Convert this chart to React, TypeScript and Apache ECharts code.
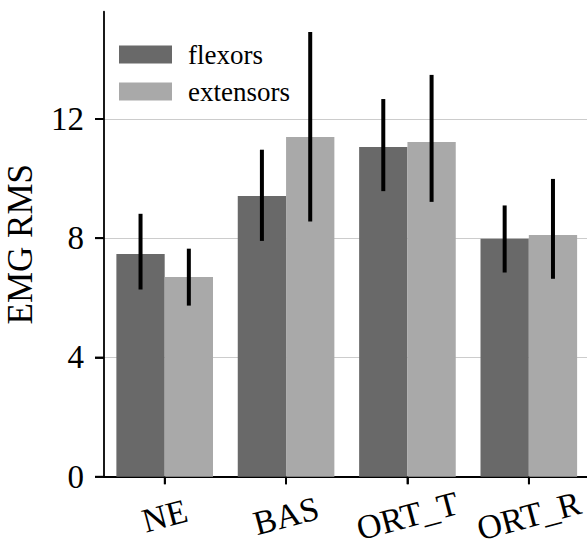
import React, { useEffect, useRef } from "react";
import * as echarts from "echarts";

const categories = ["NE", "BAS", "ORT_T", "ORT_R"];
const flexors = [7.47, 9.42, 11.06, 7.98];
const flexorsLow = [6.28, 7.91, 9.58, 6.85];
const flexorsHigh = [8.82, 10.97, 12.67, 9.1];
const extensors = [6.7, 11.4, 11.23, 8.11];
const extensorsLow = [5.74, 8.56, 9.22, 6.64];
const extensorsHigh = [7.65, 14.92, 13.48, 9.99];
const yTicks = [0, 4, 8, 12];
const yMax = 15.6;

const FONT = "Liberation Serif";
const FLEX_COLOR = "#696969";
const EXT_COLOR = "#a9a9a9";

function errorSeries(lo: number[], hi: number[], offsetFrac: number) {
  return {
    type: "custom",
    z: 5,
    clip: false,
    silent: true,
    encode: { x: 0, y: [1, 2] },
    data: lo.map((l, i) => [i, l, hi[i]]),
    renderItem: (params: any, api: any) => {
      const idx = api.value(0);
      const pLo = api.coord([idx, api.value(1)]);
      const pHi = api.coord([idx, api.value(2)]);
      const band = api.size([1, 0])[0];
      const off = band * offsetFrac;
      return {
        type: "line",
        shape: { x1: pLo[0] + off, y1: pLo[1], x2: pHi[0] + off, y2: pHi[1] },
        style: { stroke: "#000", lineWidth: 4 },
      };
    },
  };
}

// axis tick marks, positioned through the chart's own scales
const yTickSeries = {
  type: "custom",
  z: 6,
  clip: false,
  silent: true,
  encode: { x: 0, y: 1 },
  data: yTicks.map((v) => [0, v]),
  renderItem: (params: any, api: any) => {
    const p = api.coord([0, api.value(1)]);
    const band = api.size([1, 0])[0];
    const x0 = p[0] - band / 2;
    return {
      type: "line",
      shape: { x1: x0 - 9, y1: p[1], x2: x0, y2: p[1] },
      style: { stroke: "#000", lineWidth: 1.8 },
    };
  },
};

const xTickSeries = {
  type: "custom",
  z: 6,
  clip: false,
  silent: true,
  encode: { x: 0, y: 1 },
  data: categories.map((_, i) => [i, 0]),
  renderItem: (params: any, api: any) => {
    const p = api.coord([api.value(0), 0]);
    return {
      type: "line",
      shape: { x1: p[0], y1: p[1], x2: p[0], y2: p[1] + 7.5 },
      style: { stroke: "#000", lineWidth: 1.8 },
    };
  },
};

export default function App() {
  const ref = useRef<HTMLDivElement>(null);
  useEffect(() => {
    if (!ref.current) return;
    const chart = echarts.init(ref.current, null, { renderer: "svg" });
    chart.setOption({
      animation: false,
      backgroundColor: "#fff",
      textStyle: { fontFamily: FONT },
      grid: {
        left: 104,
        top: 11.7,
        height: 465,
        width: 485.5,
        containLabel: false,
        outerBoundsMode: "none",
      },
      legend: {
        data: ["flexors", "extensors"],
        orient: "vertical",
        left: 114,
        top: 36,
        itemWidth: 53,
        itemHeight: 18,
        itemGap: 10,
        icon: "rect",
        textStyle: {
          fontFamily: FONT,
          fontSize: 27,
          color: "#000",
          padding: [0, 0, 0, 11],
        },
      },
      xAxis: {
        type: "category",
        data: categories,
        axisLine: { show: true, lineStyle: { color: "#000", width: 1.8 } },
        axisTick: {
          show: true,
          alignWithLabel: true,
          length: 7.5,
          lineStyle: { color: "#000", width: 1.8 },
        },
        axisLabel: {
          interval: 0,
          hideOverlap: false,
          rotate: 15,
          align: "center",
          verticalAlign: "middle",
          margin: 39,
          fontFamily: FONT,
          fontSize: 34,
          color: "#000",
        },
        splitLine: { show: false },
      },
      yAxis: {
        type: "value",
        min: 0,
        max: yMax,
        interval: 4,
        name: "EMG RMS",
        nameLocation: "middle",
        nameGap: 66,
        nameTextStyle: { fontFamily: FONT, fontSize: 35, color: "#000" },
        axisLine: { show: true, lineStyle: { color: "#000", width: 1.8 } },
        axisTick: {
          show: true,
          length: 9,
          customValues: yTicks,
          lineStyle: { color: "#000", width: 1.8 },
        },
        axisLabel: {
          customValues: yTicks,
          margin: 20,
          fontFamily: FONT,
          fontSize: 33,
          color: "#000",
        },
        splitLine: { show: true, lineStyle: { color: "#cccccc", width: 1 } },
      },
      series: [
        {
          name: "flexors",
          type: "bar",
          data: flexors,
          barWidth: "39.8%",
          barGap: "0%",
          itemStyle: { color: FLEX_COLOR },
        },
        {
          name: "extensors",
          type: "bar",
          data: extensors,
          barWidth: "39.8%",
          barGap: "0%",
          itemStyle: { color: EXT_COLOR },
        },
        errorSeries(flexorsLow, flexorsHigh, -0.199),
        errorSeries(extensorsLow, extensorsHigh, 0.199),
        yTickSeries,
        xTickSeries,
      ],
    });
    return () => chart.dispose();
  }, []);
  return (
    <div
      ref={ref}
      style={{ position: "fixed", left: 0, top: 0, width: 587, height: 546, background: "#fff" }}
    />
  );
}
